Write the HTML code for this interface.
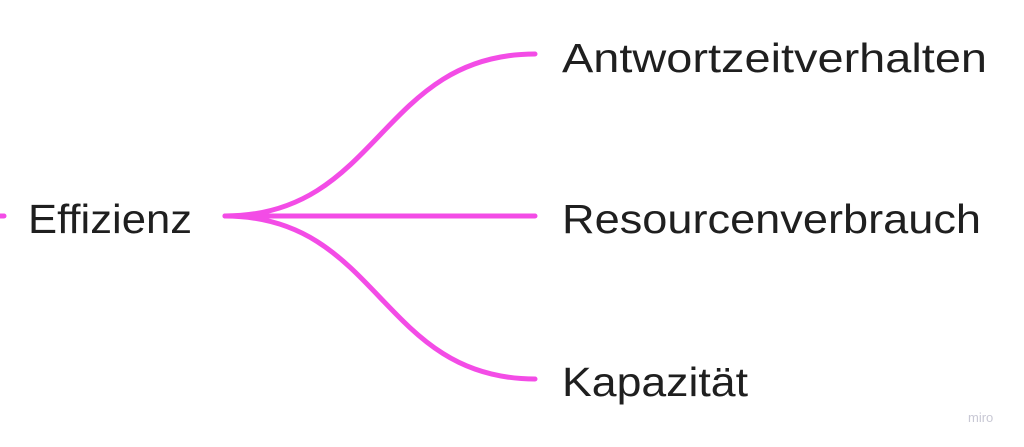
<!DOCTYPE html>
<html><head><meta charset="utf-8"><style>html,body{margin:0;padding:0;background:#fff;width:1024px;height:447px;overflow:hidden}</style></head>
<body>
<svg width="1024" height="447" viewBox="0 0 1024 447" xmlns="http://www.w3.org/2000/svg">
<g fill="none" stroke="#f34ce6" stroke-width="5" stroke-linecap="round">
<path d="M225,216 C380,216 380,54 535,54"/>
<path d="M225,216 L535,216"/>
<path d="M225,216 C380,216 380,379 535,379"/>
<path d="M-2,216 L4,216"/>
</g>
<g font-family="'Liberation Sans', 'DejaVu Sans', sans-serif" font-size="41" fill="#1f1f1f">
<text x="28" y="233" textLength="164" lengthAdjust="spacingAndGlyphs">Effizienz</text>
<text x="562" y="72" textLength="425" lengthAdjust="spacingAndGlyphs">Antwortzeitverhalten</text>
<text x="562" y="233" textLength="419" lengthAdjust="spacingAndGlyphs">Resourcenverbrauch</text>
<text x="562" y="396" textLength="186" lengthAdjust="spacingAndGlyphs">Kapazität</text>
</g>
<text x="968" y="422" font-family="'Liberation Sans', sans-serif" font-size="13" fill="#c8c8d4">miro</text>
</svg>
</body></html>
